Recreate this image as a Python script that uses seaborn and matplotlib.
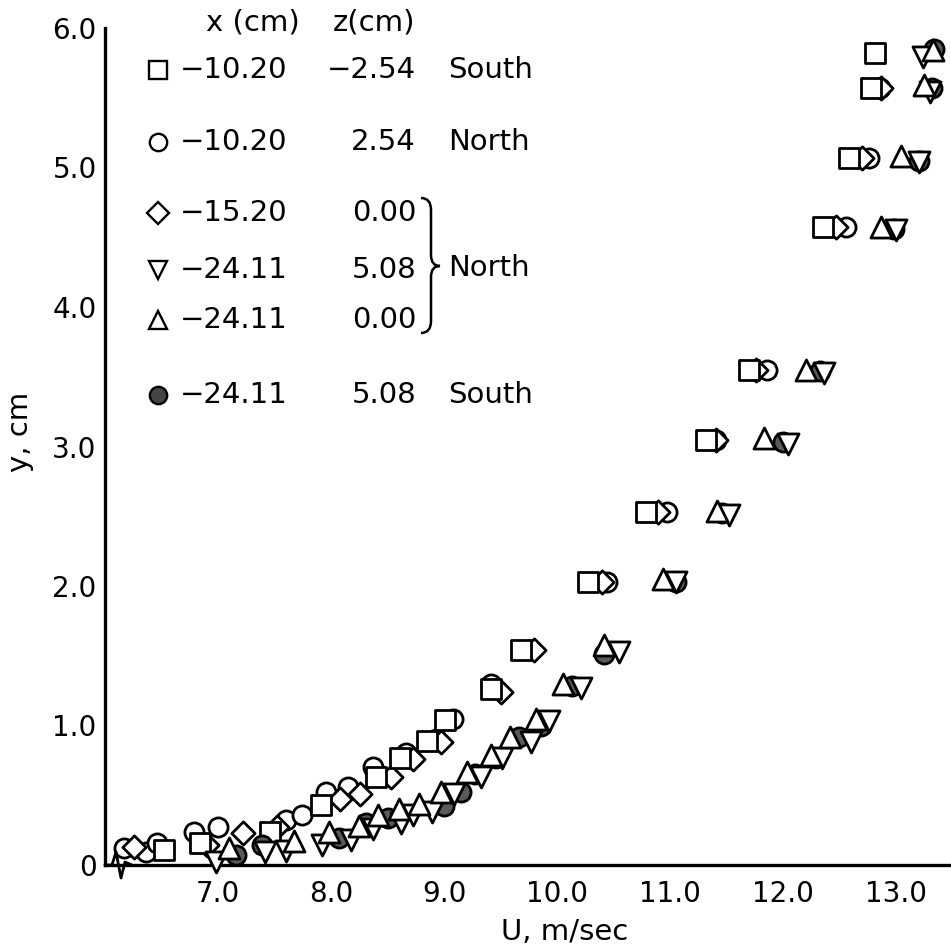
# Velocity profiles U(y) at several stations, redrawn from a scanned figure
import numpy as np
import pandas as pd
import matplotlib
matplotlib.use("Agg")
import matplotlib.pyplot as plt
import seaborn as sns
from matplotlib.lines import Line2D
from matplotlib.path import Path
from matplotlib.patches import PathPatch

# --- data (U in m/sec, y in cm) ---
# square: x=-10.20, z=-2.54 South
u_sq = [6.52, 6.84, 7.46, 7.91, 8.40, 8.61, 8.85, 9.01, 9.42, 9.68, 10.27, 10.79, 11.32, 11.70, 12.35, 12.58, 12.78, 12.81]
y_sq = [0.11, 0.16, 0.24, 0.43, 0.63, 0.77, 0.89, 1.04, 1.26, 1.54, 2.03, 2.53, 3.05, 3.55, 4.57, 5.07, 5.57, 5.82]

# open circle: x=-10.20, z=2.54 North
u_ci = [6.17, 6.36, 6.46, 6.79, 7.00, 7.60, 7.74, 7.96, 8.15, 8.37, 8.66, 8.93, 9.08, 9.42, 9.76, 10.44, 10.97, 11.41, 11.86, 12.56, 12.76, 12.86]
y_ci = [0.12, 0.09, 0.16, 0.24, 0.27, 0.32, 0.36, 0.52, 0.56, 0.70, 0.80, 0.90, 1.05, 1.30, 1.54, 2.03, 2.53, 3.05, 3.55, 4.57, 5.07, 5.57]

# diamond: x=-15.20, z=0.00 North
u_di = [6.26, 6.90, 7.22, 7.52, 8.08, 8.26, 8.53, 8.73, 8.97, 9.50, 9.80, 10.40, 10.89, 11.41, 11.76, 12.47, 12.70, 12.87]
y_di = [0.13, 0.14, 0.23, 0.27, 0.47, 0.51, 0.63, 0.76, 0.88, 1.24, 1.54, 2.03, 2.53, 3.05, 3.55, 4.57, 5.07, 5.57]

# down triangle: x=-24.11, z=5.08 North
u_dn = [6.98, 7.42, 7.60, 7.92, 8.18, 8.37, 8.62, 8.73, 8.89, 9.09, 9.33, 9.51, 9.77, 9.93, 10.21, 10.55, 11.05, 11.52, 12.04, 12.36, 13.00, 13.20, 13.30, 13.24]
y_dn = [0.02, 0.09, 0.10, 0.14, 0.18, 0.26, 0.30, 0.36, 0.38, 0.51, 0.63, 0.77, 0.88, 1.03, 1.27, 1.53, 2.03, 2.51, 3.02, 3.53, 4.55, 5.04, 5.54, 5.79]

# up triangle: x=-24.11, z=0.00 North
u_up = [7.10, 7.67, 7.98, 8.25, 8.42, 8.60, 8.78, 8.97, 9.20, 9.42, 9.58, 9.81, 10.05, 10.42, 10.94, 11.42, 11.83, 12.20, 12.87, 13.04, 13.25, 13.33]
y_up = [0.12, 0.17, 0.24, 0.28, 0.36, 0.40, 0.44, 0.52, 0.67, 0.79, 0.92, 1.05, 1.30, 1.58, 2.05, 2.54, 3.06, 3.55, 4.57, 5.08, 5.59, 5.84]

# filled circle: x=-24.11, z=5.08 South
u_fc = [7.16, 7.39, 8.07, 8.31, 8.50, 9.00, 9.15, 9.27, 9.46, 9.66, 9.86, 10.13, 10.42, 11.05, 11.46, 12.00, 12.33, 12.98, 13.20, 13.32, 13.34]
y_fc = [0.07, 0.14, 0.19, 0.30, 0.34, 0.42, 0.52, 0.65, 0.77, 0.92, 1.00, 1.28, 1.51, 2.03, 2.52, 3.03, 3.54, 4.56, 5.05, 5.57, 5.85]

x_ticks = [7.0, 8.0, 9.0, 10.0, 11.0, 12.0, 13.0]
x_ticklabels = ["7.0", "8.0", "9.0", "10.0", "11.0", "12.0", "13.0"]
y_ticks = [0, 1, 2, 3, 4, 5, 6]
y_ticklabels = ["0", "1.0", "2.0", "3.0", "4.0", "5.0", "6.0"]

# legend table
leg_x = ["−10.20", "−10.20", "−15.20", "−24.11", "−24.11", "−24.11"]
leg_z = ["−2.54", "2.54", "0.00", "5.08", "0.00", "5.08"]
leg_side = ["South", "North", "", "", "", "South"]
brace_side = "North"

# --- style ---
sns.set_style("white")
plt.rcParams['font.family'] = ['DejaVu Sans']
plt.rcParams['text.color'] = 'black'
plt.rcParams['axes.labelcolor'] = 'black'
FS = 20
LFS = 21
W = 951.0


def fig_xy(px, py):
    # pixel position (from the top-left corner) -> figure fraction
    return px / W, 1 - py / W


fig = plt.figure(figsize=(9.51, 9.51), dpi=100)
ax = fig.add_axes([105 / W, 1 - 865 / W, 846 / W, 837 / W])

FILL = '#5a5a5a'
# draw order: lowest first so the open markers hide the ones behind
series = [
    (u_ci, y_ci, 'o', 190, 'white'),
    (u_di, y_di, 'D', 140, 'white'),
    (u_sq, y_sq, 's', 200, 'white'),
    (u_fc, y_fc, 'o', 190, FILL),
    (u_dn, y_dn, 'v', 230, 'white'),
    (u_up, y_up, '^', 230, 'white'),
]
for i, (u, y, m, s, fc) in enumerate(series):
    sns.scatterplot(x=u, y=y, marker=m, s=s, color=fc, edgecolor='black',
                    linewidth=2.0, ax=ax, zorder=3 + i, clip_on=False, legend=False)

ax.set_xlim(6.0, 6.0 + 846 / 113)
ax.set_ylim(0, 6.0)
ax.set_xticks(x_ticks)
ax.set_xticklabels(x_ticklabels)
ax.set_yticks(y_ticks)
ax.set_yticklabels(y_ticklabels)
ax.tick_params(direction='in', length=13, width=2.2, labelsize=FS,
               colors='black', labelcolor='black')
ax.tick_params(axis='x', pad=11)
ax.tick_params(axis='y', pad=6)
for side in ['top', 'right']:
    ax.spines[side].set_visible(False)
for side in ['left', 'bottom']:
    ax.spines[side].set_linewidth(2.4)
    ax.spines[side].set_color('black')

ax.set_xlabel("U, m/sec", fontsize=FS + 1)
ax.xaxis.set_label_coords((565 - 105) / 846, (865 - 918) / 837)
# y label placed in figure pixels so it stays inside the canvas
fig.text(*fig_xy(20, 432), "y, cm", fontsize=FS + 1, rotation=90,
         ha='center', va='center')

# axis break mark at the lower left corner
bx = [105, 112, 116, 121, 125, 132]
by = [865, 865, 852, 878, 862, 865]
fig.add_artist(Line2D([b / W for b in bx], [1 - b / W for b in by],
                      transform=fig.transFigure, color='black', lw=2.0))

# --- legend drawn as a small table ---
fig.text(*fig_xy(206, 23), "x (cm)", fontsize=LFS, va='center', ha='left')
fig.text(*fig_xy(333, 23), "z(cm)", fontsize=LFS, va='center', ha='left')
row_y = [70, 142, 213, 270, 320, 395]
row_m = ['s', 'o', 'D', 'v', '^', 'o']
row_ms = [13, 12.5, 11, 13, 13, 12.5]
row_fc = ['white', 'white', 'white', 'white', 'white', '#444444']
for yy, m, ms, fc, xs, zs, side in zip(row_y, row_m, row_ms, row_fc, leg_x, leg_z, leg_side):
    mx, my = fig_xy(158, yy)
    fig.add_artist(Line2D([mx], [my], transform=fig.transFigure, marker=m,
                          markersize=ms, markerfacecolor=fc, markeredgecolor='black',
                          markeredgewidth=1.7, linestyle='none'))
    fig.text(*fig_xy(180, yy), xs, fontsize=LFS, va='center', ha='left')
    fig.text(*fig_xy(416, yy), zs, fontsize=LFS, va='center', ha='right')
    if side:
        fig.text(*fig_xy(448, yy), side, fontsize=LFS, va='center', ha='left')

# curly brace grouping the three North rows
bp = [(421, 198), (431, 198), (431, 210), (431, 255), (431, 266), (440, 266),
      (431, 266), (431, 277), (431, 321), (431, 333), (421, 333)]
codes = [Path.MOVETO, Path.CURVE3, Path.CURVE3, Path.LINETO, Path.CURVE3, Path.CURVE3,
         Path.CURVE3, Path.CURVE3, Path.LINETO, Path.CURVE3, Path.CURVE3]
verts = [fig_xy(px, py) for px, py in bp]
fig.add_artist(PathPatch(Path(verts, codes), transform=fig.transFigure,
                         facecolor='none', edgecolor='black', lw=1.8))
fig.text(*fig_xy(448, 268), brace_side, fontsize=LFS, va='center', ha='left')

fig.savefig("out.png", dpi=100)
